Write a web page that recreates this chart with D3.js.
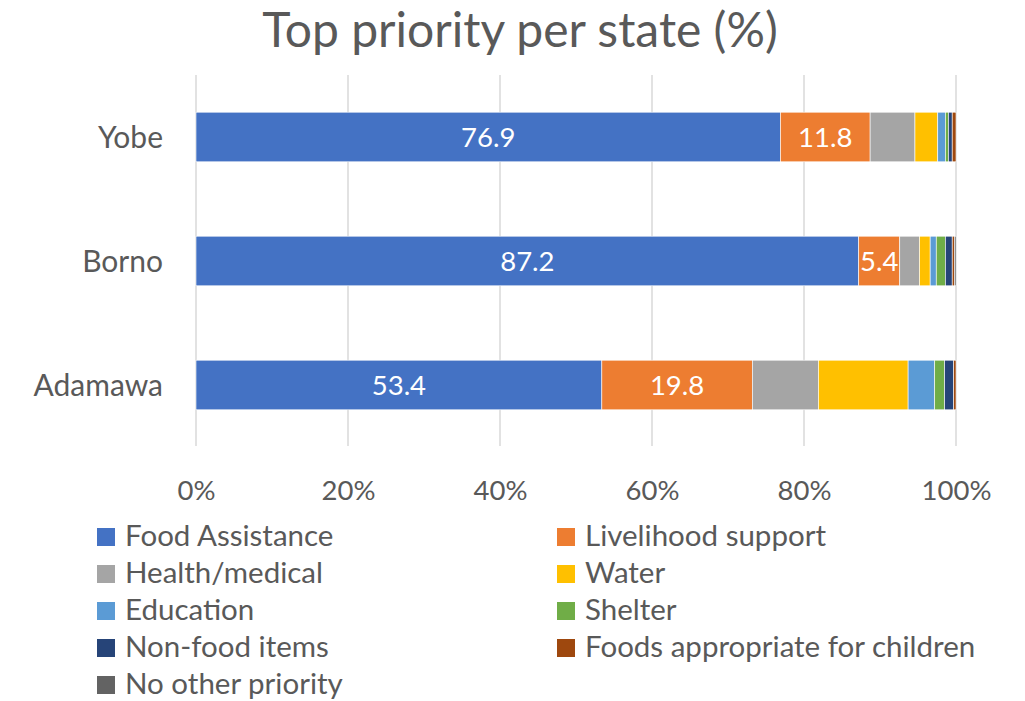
<!DOCTYPE html>
<html>
<head>
<meta charset="utf-8">
<script src="https://cdn.jsdelivr.net/npm/d3@7"></script>
<style>
  html, body { margin: 0; padding: 0; background: #fff; }
  svg { display: block; font-family: Lato, "Open Sans", sans-serif; }
</style>
</head>
<body>
<svg id="chart" width="1025" height="701"></svg>
<script>
// States, top to bottom
const states = ["Yobe", "Borno", "Adamawa"];

// Priority categories (stack order, left to right)
const priorities = [
  "Food Assistance", "Livelihood support", "Health/medical", "Water",
  "Education", "Shelter", "Non-food items", "Foods appropriate for children",
  "No other priority"
];

// Share of respondents per priority, one array per category (Yobe, Borno, Adamawa)
const foodAssistance   = [76.9, 87.2, 53.4];
const livelihood       = [11.8,  5.4, 19.8];
const healthMedical    = [ 5.9,  2.6,  8.7];
const water            = [ 3.0,  1.4, 11.8];
const education        = [ 1.0,  0.8,  3.5];
const shelter          = [ 0.4,  1.2,  1.3];
const nonFoodItems     = [ 0.5,  0.9,  1.2];
const childFoods       = [ 0.5,  0.3,  0.3];
const noOtherPriority  = [ 0.0,  0.2,  0.0];

// Which categories carry a value label on the bar
const labelledPriorities = ["Food Assistance", "Livelihood support"];

const xTicks = [0, 20, 40, 60, 80, 100];

const colors = ["#4472C4", "#ED7D31", "#A5A5A5", "#FFC000", "#5B9BD5",
                "#70AD47", "#264478", "#9E480E", "#636363"];

const seriesValues = [foodAssistance, livelihood, healthMedical, water, education,
                      shelter, nonFoodItems, childFoods, noOtherPriority];

// Build rows for d3.stack
const rows = states.map((s, i) => {
  const r = { state: s };
  priorities.forEach((p, j) => { r[p] = seriesValues[j][i]; });
  return r;
});

const svg = d3.select("#chart");
const textColor = "#595959";

const x = d3.scaleLinear().domain([0, 100]).range([196, 956]);
const y = d3.scaleBand().domain(states).range([75, 447])
  .paddingInner(0.6).paddingOuter(0.3);
const color = d3.scaleOrdinal().domain(priorities).range(colors);

// Title
svg.append("text")
  .attr("x", 520).attr("y", 47)
  .attr("text-anchor", "middle")
  .attr("fill", textColor)
  .style("font-size", "48px")
  .text("Top priority per state (%)");

// Vertical gridlines
svg.append("g")
  .selectAll("line")
  .data(xTicks)
  .join("line")
  .attr("x1", d => x(d)).attr("x2", d => x(d))
  .attr("y1", 75).attr("y2", 446)
  .attr("stroke", "#d9d9d9")
  .attr("stroke-width", 1.5);

// Stacked bars
const stacked = d3.stack().keys(priorities)(rows);

const layers = svg.append("g")
  .selectAll("g")
  .data(stacked)
  .join("g")
  .attr("fill", d => color(d.key));

layers.selectAll("rect")
  .data(d => d)
  .join("rect")
  .attr("x", d => x(d[0]))
  .attr("y", d => y(d.data.state))
  .attr("width", d => Math.max(0, x(d[1]) - x(d[0])))
  .attr("height", y.bandwidth())
  .attr("stroke", "#fff")
  .attr("stroke-width", 0.6);

// Value labels
svg.append("g")
  .selectAll("g")
  .data(stacked.filter(s => labelledPriorities.includes(s.key)))
  .join("g")
  .selectAll("text")
  .data(d => d)
  .join("text")
  .attr("x", d => (x(d[0]) + x(d[1])) / 2)
  .attr("y", d => y(d.data.state) + y.bandwidth() / 2)
  .attr("dy", "0.36em")
  .attr("text-anchor", "middle")
  .attr("fill", "#fff")
  .style("font-size", "27.5px")
  .text(d => (d[1] - d[0]).toFixed(1));

// Category axis labels
svg.append("g")
  .selectAll("text")
  .data(states)
  .join("text")
  .attr("x", 163)
  .attr("y", d => y(d) + y.bandwidth() / 2)
  .attr("dy", "0.36em")
  .attr("text-anchor", "end")
  .attr("fill", textColor)
  .style("font-size", "30px")
  .text(d => d);

// Percent axis labels
const xAxis = d3.axisBottom(x)
  .tickValues(xTicks)
  .tickFormat(d => d + "%")
  .tickSize(0)
  .tickPadding(0);

const xg = svg.append("g")
  .attr("transform", "translate(0,500)")
  .call(xAxis);
xg.select(".domain").remove();
xg.selectAll("text")
  .attr("fill", textColor)
  .attr("dy", 0)
  .style("font-size", "27.5px")
  .style("font-family", "Lato, 'Open Sans', sans-serif");

// Legend: two columns, filled row by row
const legend = svg.append("g");
const legendItems = legend.selectAll("g")
  .data(priorities)
  .join("g")
  .attr("transform", (d, i) => {
    const col = i % 2, row = Math.floor(i / 2);
    return `translate(${col === 0 ? 97 : 557},${537 + row * 37})`;
  });

legendItems.append("rect")
  .attr("x", 0).attr("y", -9)
  .attr("width", 18).attr("height", 18)
  .attr("fill", d => color(d));

legendItems.append("text")
  .attr("x", 28).attr("y", 0)
  .attr("dy", "0.32em")
  .attr("fill", textColor)
  .style("font-size", "29.5px")
  .text(d => d);
</script>
</body>
</html>
